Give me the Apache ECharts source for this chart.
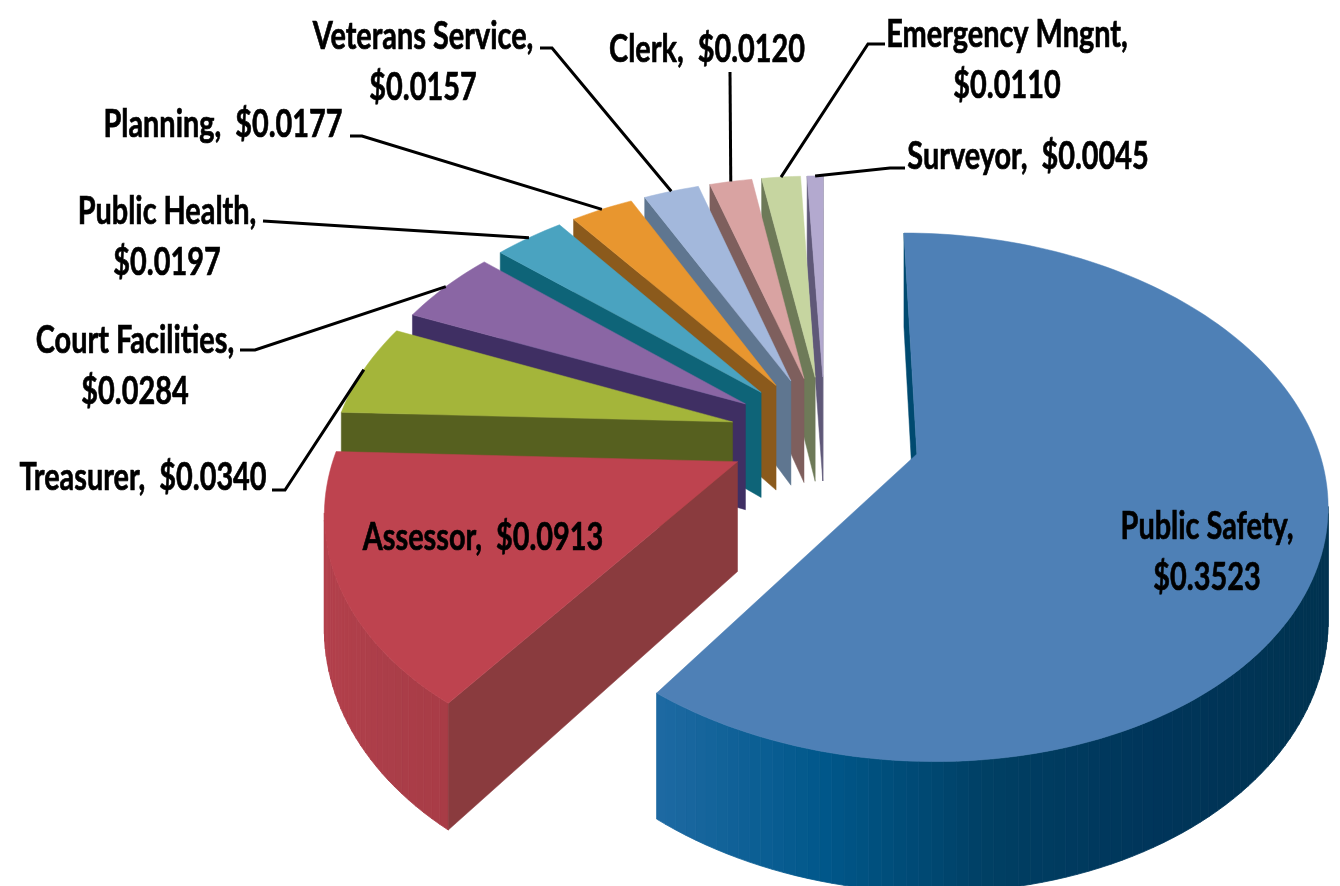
<!DOCTYPE html>
<html><head><meta charset="utf-8">
<style>html,body{margin:0;padding:0;background:#fff}#c{width:1340px;height:886px}</style>
<script src="https://cdn.jsdelivr.net/npm/echarts@6/dist/echarts.min.js"></script>
</head><body><div id="c"></div>
<script>
const categories = ['Public Safety','Assessor','Treasurer','Court Facilities','Public Health','Planning','Veterans Service','Clerk','Emergency Mngnt','Surveyor'];
const values = [0.3523,0.0913,0.0340,0.0284,0.0197,0.0177,0.0157,0.0120,0.0110,0.0045];
const valueLabels = ['$0.3523','$0.0913','$0.0340','$0.0284','$0.0197','$0.0177','$0.0157','$0.0120','$0.0110','$0.0045'];
const topColors = ['#4e80b6','#be434f','#a4b53a','#8a66a4','#4aa3c0','#e8962f','#a3b8dc','#d9a3a2','#c6d5a0','#b3a9cf'];
const wallColors = ['#004a70','#8a3b3e','#56601f','#3f2f63','#0e6478','#8b5a1c','#5f7690','#7e5f5d','#6e7a58','#5f5878'];
const rimStops = [['#1e6aa3','#00578a','#003f63','#00355a','#003350'],['#b3404b','#ab3e49','#a83c46'],['#5c6622'],['#45346a'],['#0e6478'],['#8b5a1c'],['#5f7690'],['#7e5f5d'],['#6e7a58'],['#5f5878']];
// painter's order, index 0 is drawn first
const drawRank = [0,9,8,7,6,5,4,3,2,1];
// label layout: text anchor, two-line flag, leader elbow points (the leader's far end is projected from the slice rim)
const labelLayout = [
 {x:1207,y:552,two:true,leader:null},
 {x:483,y:537,two:false,leader:null},
 {x:143,y:477,two:false,leader:[[272,490],[285,490]]},
 {x:135,y:366,two:true,leader:[[240,350],[255,350]]},
 {x:167,y:237,two:true,leader:[[263,221]]},
 {x:223,y:124,two:false,leader:[[350,136],[362,136]]},
 {x:423,y:62,two:true,leader:[[540,48],[552,48]]},
 {x:707,y:49,two:false,leader:[[730,72]]},
 {x:1007,y:60,two:true,leader:[[885,44],[868,44]]},
 {x:1028,y:156,two:false,leader:[[905,168],[890,168]]}
];
const view = {cx:825, cy:435, S:398, AS:251, k:0.162, H:108, explode:0.24, startDeg:0};
const total = values.reduce((a,b)=>a+b,0);
const TAU = Math.PI*2;
let acc = view.startDeg/360*TAU;
const spans = values.map(v=>{const a0=acc; acc+=v/total*TAU; return [a0,acc];});
function project(i,r,th,z){
  const mid=(spans[i][0]+spans[i][1])/2;
  const x=view.explode*Math.sin(mid)+r*Math.sin(th);
  const y=view.explode*Math.cos(mid)+r*Math.cos(th);
  const w=1+view.k*y;
  return [view.cx+view.S*x/w, view.cy-view.AS*y/w+view.H*z/w];
}
function area(p){let s=0;for(let j=0;j<p.length;j++){const a=p[j],b=p[(j+1)%p.length];s+=a[0]*b[1]-b[0]*a[1];}return s;}
function hex(c){return [1,3,5].map(o=>parseInt(c.substr(o,2),16));}
function ramp(stops,t){
  if(stops.length===1)return stops[0];
  const f=Math.max(0,Math.min(0.9999,t))*(stops.length-1),j=Math.floor(f),u=f-j;
  const a=hex(stops[j]),b=hex(stops[j+1]);
  return 'rgb('+a.map((v,m)=>Math.round(v+(b[m]-v)*u)).join(',')+')';
}
const labelFont='bold 39px Lato, "Noto Sans", sans-serif';
function textEl(str,x,y,z2){
  return {type:'text',x:x,y:y,scaleX:0.74,z2:z2,silent:true,
    style:{text:str,x:0,y:0,align:'center',verticalAlign:'middle',font:labelFont,fill:'#000',stroke:'#000',lineWidth:0.7}};
}
function renderItem(params,api){
  const i=api.value(1);
  const [a0,a1]=spans[i];
  const zBase=drawRank[i]*5+1;
  const kids=[];
  const n=Math.max(2,Math.ceil((a1-a0)/(1.5*Math.PI/180)));
  const rim=[];for(let j=0;j<=n;j++)rim.push(a0+(a1-a0)*j/n);
  const tops=rim.map(t=>project(i,1,t,0));
  const bots=rim.map(t=>project(i,1,t,1));
  const apexT=project(i,0,a0,0),apexB=project(i,0,a0,1);
  const xs=tops.map(p=>p[0]),xmin=Math.min(...xs),xmax=Math.max(...xs);
  for(let j=0;j<n;j++){
    const q=[tops[j],tops[j+1],bots[j+1],bots[j]];
    if(area(q)<0){
      const col=ramp(rimStops[i],((tops[j][0]+tops[j+1][0])/2-xmin)/(xmax-xmin||1));
      kids.push({type:'polygon',z2:zBase,silent:true,shape:{points:q},style:{fill:col,stroke:col,lineWidth:0.8}});
    }
  }
  const ws=[apexT,tops[0],bots[0],apexB];
  if(area(ws)<0)kids.push({type:'polygon',z2:zBase+1,silent:true,shape:{points:ws},style:{fill:wallColors[i],stroke:wallColors[i],lineWidth:0.5}});
  const we=[tops[n],apexT,apexB,bots[n]];
  if(area(we)<0)kids.push({type:'polygon',z2:zBase+1,silent:true,shape:{points:we},style:{fill:wallColors[i],stroke:wallColors[i],lineWidth:0.5}});
  kids.push({type:'polygon',z2:zBase+2,silent:true,shape:{points:[apexT].concat(tops)},style:{fill:topColors[i],stroke:topColors[i],lineWidth:0.5}});
  const lay=labelLayout[i];
  const name=categories[i]+',';
  if(lay.two){
    kids.push(textEl(name,lay.x,lay.y-25.5,500));
    kids.push(textEl(valueLabels[i],lay.x,lay.y+25.5,500));
  }else{
    kids.push(textEl(name+'  '+valueLabels[i],lay.x,lay.y,500));
  }
  if(lay.leader){
    const end=project(i,1,(a0+a1)/2,0);
    kids.push({type:'polyline',z2:499,silent:true,shape:{points:lay.leader.concat([end])},style:{fill:'none',stroke:'#000',lineWidth:3}});
  }
  return {type:'group',children:kids};
}
const chart=echarts.init(document.getElementById('c'),null,{renderer:'canvas',width:1340,height:886});
chart.setOption({
  animation:false,backgroundColor:'#fff',
  series:[{type:'custom',coordinateSystem:'none',renderItem:renderItem,
    data:values.map((v,i)=>[v,i]),encode:{value:0}}]
});
</script></body></html>
